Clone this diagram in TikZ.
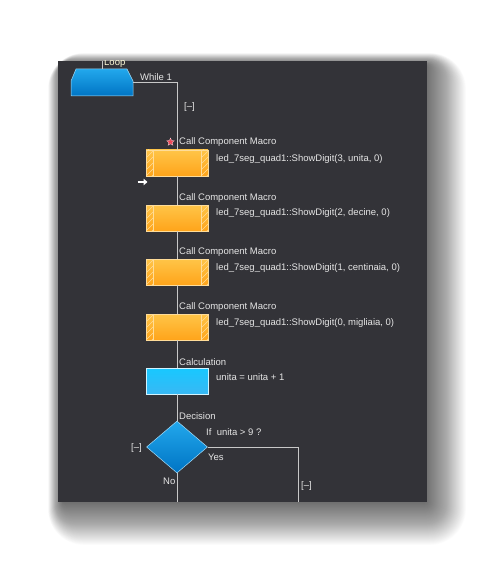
\documentclass[tikz,border=0pt]{standalone}
\usepackage{fontspec}
\setmainfont{Liberation Sans}
\usetikzlibrary{shapes.geometric,arrows.meta}
\definecolor{panel}{HTML}{333338}
\definecolor{wire}{HTML}{C8C8C8}
\definecolor{txt}{HTML}{E6E6E6}
\definecolor{orA}{HTML}{FFC548}
\definecolor{orB}{HTML}{FFA41A}
\definecolor{orE}{HTML}{FFDC98}
\definecolor{blA}{HTML}{22A8EC}
\definecolor{blB}{HTML}{0074C4}
\definecolor{cyA}{HTML}{18C8FF}
\definecolor{cyB}{HTML}{38B8F4}
\definecolor{starc}{HTML}{F04858}
\tikzset{
  x=1pt, y=-1pt,
  wireline/.style={draw=wire, line width=0.7pt},
  lbl/.style={text=txt, font=\fontsize{9.5}{11}\selectfont, inner sep=0pt, anchor=west},
  macrobox/.style={rectangle, minimum width=62pt, minimum height=26pt, inner sep=0pt,
    top color=orA, bottom color=orB, draw=orE, line width=0.5pt,
    path picture={
      \begin{scope}
        \clip ([xshift=0pt]path picture bounding box.south west) rectangle ([xshift=7pt]path picture bounding box.north west);
        \foreach \k in {-2,...,5}{\draw[orE, line width=0.5pt] ([yshift=\k*6pt]path picture bounding box.south west) -- ++(12pt,12pt);}
      \end{scope}
      \begin{scope}
        \clip ([xshift=-7pt]path picture bounding box.south east) rectangle (path picture bounding box.north east);
        \foreach \k in {-2,...,5}{\draw[orE, line width=0.5pt] ([xshift=-7pt,yshift=\k*6pt]path picture bounding box.south east) -- ++(12pt,12pt);}
      \end{scope}
      \draw[orE, line width=0.5pt] ([xshift=7pt]path picture bounding box.south west) -- ([xshift=7pt]path picture bounding box.north west);
      \draw[orE, line width=0.5pt] ([xshift=-7pt]path picture bounding box.south east) -- ([xshift=-7pt]path picture bounding box.north east);
    }},
  calcbox/.style={rectangle, minimum width=62pt, minimum height=26pt, inner sep=0pt,
    top color=cyA, bottom color=cyB, draw=white!80!cyA, line width=0.6pt},
  decbox/.style={diamond, minimum width=61pt, minimum height=52pt, inner sep=0pt, aspect=1.17,
    top color=blA, bottom color=blB, draw=white!60!blA, line width=0.5pt},
}
\begin{document}
\begin{tikzpicture}
\useasboundingbox (0,0) rectangle (498,572);
\fill[white] (0,0) rectangle (498,572);
% shadow
\foreach \i in {1,...,60}{
  \fill[black, opacity=0.011, rounded corners=\i*0.6pt] (58+5-\i*0.25, 61+4-\i*0.2) rectangle (427-3+\i*0.7, 502-2+\i*0.75);
}
\fill[panel] (58,61) rectangle (427,502);
\node[inner sep=0, minimum width=0, minimum height=0] (panel) at (242.5,281.5) {};
\coordinate (ptop) at (102,61);
\coordinate (pbotL) at (177,502);
\coordinate (pbotR) at (298,502);

% Loop trapezoid
\coordinate (looptop) at (102,69);
\coordinate (loopright) at (133,82);
\coordinate (turn1) at (177,82);
\fill[top color=blA, bottom color=blB, draw=white!60!blA, line width=0.5pt]
  (76,69) -- (127,69) -- (133,81) -- (133,96) -- (71,96) -- (71,81) -- cycle;
\begin{scope}
  \clip (58,61) rectangle (427,502);
  \node[lbl, text=white!85!yellow] (looplbl) at (104,63.5) {Loop};
\end{scope}
\node[lbl] (while) at (140,77) {While 1};
\node[lbl] (m1) at (184,107) {[--]};

% boxes
\node[macrobox] (b1) at (177,163) {};
\node[macrobox] (b2) at (177,218) {};
\node[macrobox] (b3) at (177,272) {};
\node[macrobox] (b4) at (177,327) {};
\node[calcbox] (c1) at (177,381) {};
\node[decbox] (d1) at (177,447) {};

% wires
\draw[wireline] (ptop) -- (looptop);
\draw[wireline] (loopright) -- (turn1) -- (b1.north);
\draw[wireline] (b1.south) -- (b2.north);
\draw[wireline] (b2.south) -- (b3.north);
\draw[wireline] (b3.south) -- (b4.north);
\draw[wireline] (b4.south) -- (c1.north);
\draw[wireline] (c1.south) -- (d1.north);
\draw[wireline] (d1.south) -- (pbotL);
\draw[wireline] (d1.east) -| (pbotR);

% labels
\node[star, star points=5, star point ratio=2.2, fill=starc, draw=white!70!starc, line width=0.3pt, minimum size=8pt, inner sep=0pt] (st) at (170.5,142) {};
\node[lbl] (l1) at (179,142) {Call Component Macro};
\node[lbl] (t1) at (216,159) {led\_7seg\_quad1::ShowDigit(3, unita, 0)};
\node[lbl] (l2) at (179,198) {Call Component Macro};
\node[lbl] (t2) at (216,213) {led\_7seg\_quad1::ShowDigit(2, decine, 0)};
\node[lbl] (l3) at (179,252) {Call Component Macro};
\node[lbl] (t3) at (216,268) {led\_7seg\_quad1::ShowDigit(1, centinaia, 0)};
\node[lbl] (l4) at (179,307) {Call Component Macro};
\node[lbl] (t4) at (216,323) {led\_7seg\_quad1::ShowDigit(0, migliaia, 0)};
\node[lbl] (l5) at (179,362) {Calculation};
\node[lbl] (t5) at (216,377) {unita = unita + 1};
\node[lbl] (l6) at (179,416) {Decision};
\node[lbl] (t6) at (206,432) {If\ \ unita > 9 ?};
\node[lbl] (m2) at (131,448) {[--]};
\node[lbl] (yes) at (208,457.5) {Yes};
\node[lbl] (no) at (163,481) {No};
\node[lbl] (m3) at (301,486) {[--]};

% white arrow
\coordinate (arrA) at (137.5,182);
\coordinate (arrB) at (147.5,182);
\draw[white, line width=2.2pt, -{Triangle[length=4pt,width=6.5pt]}] (arrA) -- (arrB);
\end{tikzpicture}
\end{document}
